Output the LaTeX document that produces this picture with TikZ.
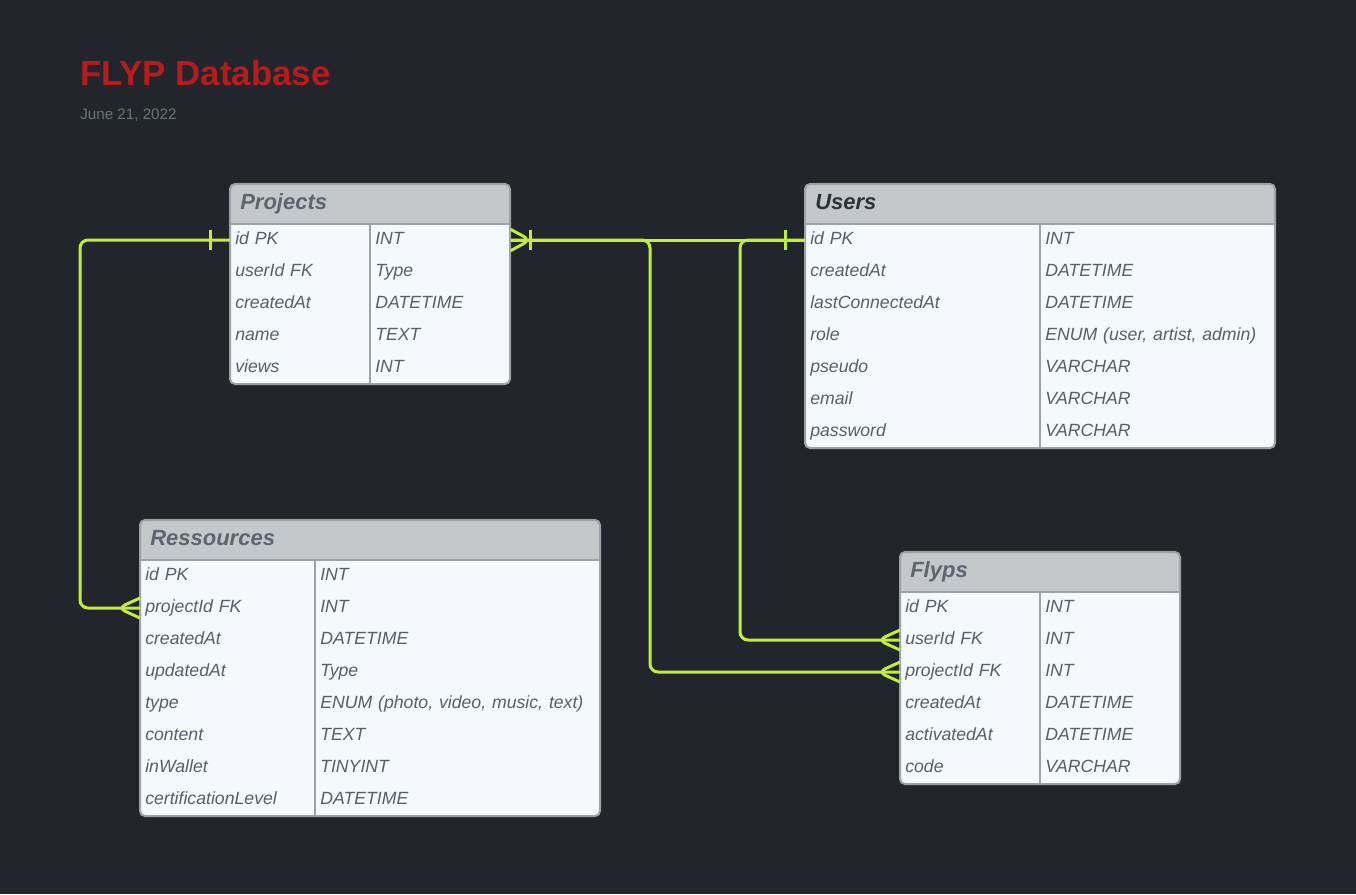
\documentclass[tikz,border=0pt]{standalone}
\usepackage{fontspec}
\setmainfont{Liberation Sans}
\usetikzlibrary{decorations.markings}

\definecolor{pagebg}{HTML}{22252B}
\definecolor{titlered}{HTML}{B71C1C}
\definecolor{dategray}{HTML}{6C717A}
\definecolor{headfill}{HTML}{C4C8CB}
\definecolor{bodyfill}{HTML}{F5F9FD}
\definecolor{edgegray}{HTML}{9FA2A5}
\definecolor{celltext}{HTML}{585D69}
\definecolor{headtext}{HTML}{5F6470}
\definecolor{darkhead}{HTML}{2E3239}
\definecolor{fkgreen}{HTML}{BFEF3B}

\begin{document}
\begin{tikzpicture}[x=0.75pt, y=-0.75pt,
	cell/.style={anchor=west, inner xsep=3.75pt, inner ysep=0pt, text height=10pt, text depth=3.3pt, align=left, text=celltext, font=\itshape\fontsize{13.25}{15}\selectfont},
	head/.style={anchor=base west, inner sep=0pt, text=headtext, font=\bfseries\itshape\fontsize{16.5}{19}\selectfont},
	rule/.style={draw=edgegray, line width=1.5pt},
	fk/.style={draw=fkgreen, line width=2.25pt},
	link/.style={fk, rounded corners=6pt},
	one/.style={postaction={decorate, decoration={markings, mark=at position 15pt with {\draw[fk] (0,-7.5pt) -- (0,7.5pt);}}}},
	many/.style={postaction={decorate, decoration={markings, mark=at position -16.5pt with {\draw[fk] (16.5pt,7.5pt) -- (0,0) -- (16.5pt,-7.5pt);}}}},
	onemany/.style={postaction={decorate, decoration={markings, mark=at position -15pt with {\draw[fk] (15pt,8pt) -- (0,0) -- (15pt,-8pt); \draw[fk] (0,-7.5pt) -- (0,7.5pt);}}}}]
	\fill[pagebg] (0,0) rectangle (1356,894);
	\useasboundingbox (0,0) rectangle (1356,894);

	\node[anchor=base west, inner sep=0pt, text=titlered, font=\bfseries\fontsize{26.1}{30}\selectfont] (title) at (80,85) {FLYP Database};
	\node[anchor=base west, inner sep=0pt, text=dategray, font=\fontsize{11.4}{14}\selectfont] (date) at (80,119) {June 21, 2022};

	% Projects
	\fill[bodyfill, rounded corners=3.75pt] (230,184) rectangle (510,384);
	\fill[headfill] (230,224) [rounded corners=3.75pt] -- (230,184) -- (510,184) [sharp corners] -- (510,224) -- cycle;
	\node[head] (projects) at (240,209) {Projects};
	\node[cell, text width=97.5pt] (p1n) at (230,240) {id PK};
	\node[cell, text width=97.5pt] (p1t) at (370,240) {INT};
	\node[cell, text width=97.5pt] (p2n) at (230,272) {userId FK};
	\node[cell, text width=97.5pt] (p2t) at (370,272) {Type};
	\node[cell, text width=97.5pt] (p3n) at (230,304) {createdAt};
	\node[cell, text width=97.5pt] (p3t) at (370,304) {DATETIME};
	\node[cell, text width=97.5pt] (p4n) at (230,336) {name};
	\node[cell, text width=97.5pt] (p4t) at (370,336) {TEXT};
	\node[cell, text width=97.5pt] (p5n) at (230,368) {views};
	\node[cell, text width=97.5pt] (p5t) at (370,368) {INT};
	\draw[rule] (230,224) -- (510,224);
	\draw[rule] (370,224) -- (370,384);
	\draw[rule, rounded corners=3.75pt] (230,184) rectangle (510,384);

	% Users
	\fill[bodyfill, rounded corners=3.75pt] (805,184) rectangle (1275,448);
	\fill[headfill] (805,224) [rounded corners=3.75pt] -- (805,184) -- (1275,184) [sharp corners] -- (1275,224) -- cycle;
	\node[head, text=darkhead] (users) at (815,209) {Users};
	\node[cell, text width=168.75pt] (u1n) at (805,240) {id PK};
	\node[cell, text width=168.75pt] (u1t) at (1040,240) {INT};
	\node[cell, text width=168.75pt] (u2n) at (805,272) {createdAt};
	\node[cell, text width=168.75pt] (u2t) at (1040,272) {DATETIME};
	\node[cell, text width=168.75pt] (u3n) at (805,304) {lastConnectedAt};
	\node[cell, text width=168.75pt] (u3t) at (1040,304) {DATETIME};
	\node[cell, text width=168.75pt] (u4n) at (805,336) {role};
	\node[cell, text width=168.75pt] (u4t) at (1040,336) {ENUM (user, artist, admin)};
	\node[cell, text width=168.75pt] (u5n) at (805,368) {pseudo};
	\node[cell, text width=168.75pt] (u5t) at (1040,368) {VARCHAR};
	\node[cell, text width=168.75pt] (u6n) at (805,400) {email};
	\node[cell, text width=168.75pt] (u6t) at (1040,400) {VARCHAR};
	\node[cell, text width=168.75pt] (u7n) at (805,432) {password};
	\node[cell, text width=168.75pt] (u7t) at (1040,432) {VARCHAR};
	\draw[rule] (805,224) -- (1275,224);
	\draw[rule] (1040,224) -- (1040,448);
	\draw[rule, rounded corners=3.75pt] (805,184) rectangle (1275,448);

	% Ressources
	\fill[bodyfill, rounded corners=3.75pt] (140,520) rectangle (600,816);
	\fill[headfill] (140,560) [rounded corners=3.75pt] -- (140,520) -- (600,520) [sharp corners] -- (600,560) -- cycle;
	\node[head] (ressources) at (150,545) {Ressources};
	\node[cell, text width=123.75pt] (r1n) at (140,576) {id PK};
	\node[cell, text width=206.25pt] (r1t) at (315,576) {INT};
	\node[cell, text width=123.75pt] (r2n) at (140,608) {projectId FK};
	\node[cell, text width=206.25pt] (r2t) at (315,608) {INT};
	\node[cell, text width=123.75pt] (r3n) at (140,640) {createdAt};
	\node[cell, text width=206.25pt] (r3t) at (315,640) {DATETIME};
	\node[cell, text width=123.75pt] (r4n) at (140,672) {updatedAt};
	\node[cell, text width=206.25pt] (r4t) at (315,672) {Type};
	\node[cell, text width=123.75pt] (r5n) at (140,704) {type};
	\node[cell, text width=206.25pt] (r5t) at (315,704) {ENUM (photo, video, music, text)};
	\node[cell, text width=123.75pt] (r6n) at (140,736) {content};
	\node[cell, text width=206.25pt] (r6t) at (315,736) {TEXT};
	\node[cell, text width=123.75pt] (r7n) at (140,768) {inWallet};
	\node[cell, text width=206.25pt] (r7t) at (315,768) {TINYINT};
	\node[cell, text width=123.75pt] (r8n) at (140,800) {certificationLevel};
	\node[cell, text width=206.25pt] (r8t) at (315,800) {DATETIME};
	\draw[rule] (140,560) -- (600,560);
	\draw[rule] (315,560) -- (315,816);
	\draw[rule, rounded corners=3.75pt] (140,520) rectangle (600,816);

	% Flyps
	\fill[bodyfill, rounded corners=3.75pt] (900,552) rectangle (1180,784);
	\fill[headfill] (900,592) [rounded corners=3.75pt] -- (900,552) -- (1180,552) [sharp corners] -- (1180,592) -- cycle;
	\node[head] (flyps) at (910,577) {Flyps};
	\node[cell, text width=97.5pt] (f1n) at (900,608) {id PK};
	\node[cell, text width=97.5pt] (f1t) at (1040,608) {INT};
	\node[cell, text width=97.5pt] (f2n) at (900,640) {userId FK};
	\node[cell, text width=97.5pt] (f2t) at (1040,640) {INT};
	\node[cell, text width=97.5pt] (f3n) at (900,672) {projectId FK};
	\node[cell, text width=97.5pt] (f3t) at (1040,672) {INT};
	\node[cell, text width=97.5pt] (f4n) at (900,704) {createdAt};
	\node[cell, text width=97.5pt] (f4t) at (1040,704) {DATETIME};
	\node[cell, text width=97.5pt] (f5n) at (900,736) {activatedAt};
	\node[cell, text width=97.5pt] (f5t) at (1040,736) {DATETIME};
	\node[cell, text width=97.5pt] (f6n) at (900,768) {code};
	\node[cell, text width=97.5pt] (f6t) at (1040,768) {VARCHAR};
	\draw[rule] (900,592) -- (1180,592);
	\draw[rule] (1040,592) -- (1040,784);
	\draw[rule, rounded corners=3.75pt] (900,552) rectangle (1180,784);

	% relations
	\coordinate (lbus) at (80,0);
	\coordinate (pbus) at (650,0);
	\coordinate (ubus) at (740,0);
	\draw[link, one, many] (p1n.west) -- (p1n.west -| lbus) -- (r2n.west -| lbus) -- (r2n.west);
	\draw[link, one, onemany] (u1n.west) -- (p1t.east);
	\draw[link, many] (u1n.west) -- (u1n.west -| ubus) -- (f2n.west -| ubus) -- (f2n.west);
	\draw[link, many] (p1t.east) -- (p1t.east -| pbus) -- (f3n.west -| pbus) -- (f3n.west);
\end{tikzpicture}
\end{document}
